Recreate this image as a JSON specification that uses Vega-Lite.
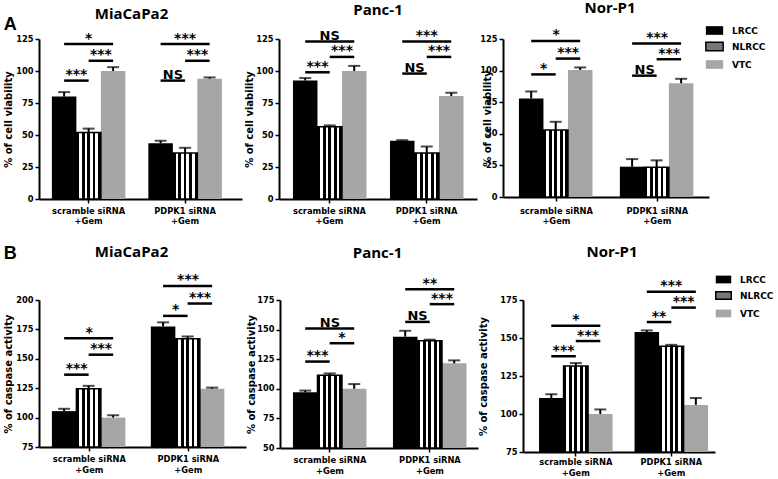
{
  "$schema": "https://vega.github.io/schema/vega-lite/v6.json",
  "padding": {"left": 3, "top": 1, "right": 2, "bottom": 2},
  "config": {
    "view": {"stroke": null},
    "axis": {"domainColor": "black", "domainWidth": 2, "tickColor": "black", "tickWidth": 1.5, "tickSize": 4, "labelFont": "DejaVu Sans", "labelFontWeight": "bold", "labelFontSize": 8.3, "labelColor": "black", "titleFont": "DejaVu Sans", "titleFontWeight": "bold", "titleFontSize": 10, "titleColor": "black", "grid": false, "labelOverlap": false},
    "title": {"font": "Open Sans", "fontWeight": "bold", "fontSize": 15, "color": "black", "frame": "group"},
    "legend": {"title": null, "symbolType": "M-1,-0.5H1V0.5H-1Z", "symbolSize": 300, "symbolStrokeWidth": 0, "labelFont": "DejaVu Sans", "labelFontWeight": "bold", "labelFontSize": 9, "labelColor": "black", "rowPadding": 1, "labelOffset": 8, "padding": 0}
  },
  "datasets": {
    "bars": [
      {"panel": "T1", "group": "scramble siRNA", "treatment": "LRCC", "value": 80, "hi": 83.5},
      {"panel": "T1", "group": "scramble siRNA", "treatment": "NLRCC", "value": 52, "hi": 55},
      {"panel": "T1", "group": "scramble siRNA", "treatment": "VTC", "value": 100, "hi": 103},
      {"panel": "T1", "group": "PDPK1 siRNA", "treatment": "LRCC", "value": 43.5, "hi": 45.5},
      {"panel": "T1", "group": "PDPK1 siRNA", "treatment": "NLRCC", "value": 36, "hi": 40},
      {"panel": "T1", "group": "PDPK1 siRNA", "treatment": "VTC", "value": 94, "hi": 95},
      {"panel": "T2", "group": "scramble siRNA", "treatment": "LRCC", "value": 92.5, "hi": 94.5},
      {"panel": "T2", "group": "scramble siRNA", "treatment": "NLRCC", "value": 56.5, "hi": 57.5},
      {"panel": "T2", "group": "scramble siRNA", "treatment": "VTC", "value": 100, "hi": 104},
      {"panel": "T2", "group": "PDPK1 siRNA", "treatment": "LRCC", "value": 45.5, "hi": 46},
      {"panel": "T2", "group": "PDPK1 siRNA", "treatment": "NLRCC", "value": 36, "hi": 41},
      {"panel": "T2", "group": "PDPK1 siRNA", "treatment": "VTC", "value": 80.5, "hi": 83},
      {"panel": "T3", "group": "scramble siRNA", "treatment": "LRCC", "value": 78, "hi": 83.5},
      {"panel": "T3", "group": "scramble siRNA", "treatment": "NLRCC", "value": 53, "hi": 59.5},
      {"panel": "T3", "group": "scramble siRNA", "treatment": "VTC", "value": 100.5, "hi": 102.5},
      {"panel": "T3", "group": "PDPK1 siRNA", "treatment": "LRCC", "value": 24, "hi": 30},
      {"panel": "T3", "group": "PDPK1 siRNA", "treatment": "NLRCC", "value": 23.5, "hi": 29},
      {"panel": "T3", "group": "PDPK1 siRNA", "treatment": "VTC", "value": 90, "hi": 93.5},
      {"panel": "B1", "group": "scramble siRNA", "treatment": "LRCC", "value": 105.5, "hi": 107.5},
      {"panel": "B1", "group": "scramble siRNA", "treatment": "NLRCC", "value": 124.5, "hi": 127},
      {"panel": "B1", "group": "scramble siRNA", "treatment": "VTC", "value": 100, "hi": 102},
      {"panel": "B1", "group": "PDPK1 siRNA", "treatment": "LRCC", "value": 177.5, "hi": 181},
      {"panel": "B1", "group": "PDPK1 siRNA", "treatment": "NLRCC", "value": 167, "hi": 169},
      {"panel": "B1", "group": "PDPK1 siRNA", "treatment": "VTC", "value": 124.5, "hi": 125.5},
      {"panel": "B2", "group": "scramble siRNA", "treatment": "LRCC", "value": 97, "hi": 98.5},
      {"panel": "B2", "group": "scramble siRNA", "treatment": "NLRCC", "value": 111.5, "hi": 113},
      {"panel": "B2", "group": "scramble siRNA", "treatment": "VTC", "value": 100, "hi": 104},
      {"panel": "B2", "group": "PDPK1 siRNA", "treatment": "LRCC", "value": 144, "hi": 149},
      {"panel": "B2", "group": "PDPK1 siRNA", "treatment": "NLRCC", "value": 140.5, "hi": 141.5},
      {"panel": "B2", "group": "PDPK1 siRNA", "treatment": "VTC", "value": 121.5, "hi": 124},
      {"panel": "B3", "group": "scramble siRNA", "treatment": "LRCC", "value": 110.5, "hi": 113},
      {"panel": "B3", "group": "scramble siRNA", "treatment": "NLRCC", "value": 131.5, "hi": 133.5},
      {"panel": "B3", "group": "scramble siRNA", "treatment": "VTC", "value": 100, "hi": 103},
      {"panel": "B3", "group": "PDPK1 siRNA", "treatment": "LRCC", "value": 154, "hi": 155},
      {"panel": "B3", "group": "PDPK1 siRNA", "treatment": "NLRCC", "value": 144.5, "hi": 145.5},
      {"panel": "B3", "group": "PDPK1 siRNA", "treatment": "VTC", "value": 106, "hi": 110.5}
    ],
    "sig": [
      {"panel": "T1", "group": "scramble siRNA", "from": "LRCC", "to": "VTC", "level": 121, "label": "*"},
      {"panel": "T1", "group": "scramble siRNA", "from": "NLRCC", "to": "VTC", "level": 108, "label": "***"},
      {"panel": "T1", "group": "scramble siRNA", "from": "LRCC", "to": "NLRCC", "level": 92.5, "label": "***"},
      {"panel": "T1", "group": "PDPK1 siRNA", "from": "LRCC", "to": "VTC", "level": 121, "label": "***"},
      {"panel": "T1", "group": "PDPK1 siRNA", "from": "NLRCC", "to": "VTC", "level": 108, "label": "***"},
      {"panel": "T1", "group": "PDPK1 siRNA", "from": "LRCC", "to": "NLRCC", "level": 92.5, "label": "NS"},
      {"panel": "T2", "group": "scramble siRNA", "from": "LRCC", "to": "VTC", "level": 123, "label": "NS"},
      {"panel": "T2", "group": "scramble siRNA", "from": "NLRCC", "to": "VTC", "level": 111, "label": "***"},
      {"panel": "T2", "group": "scramble siRNA", "from": "LRCC", "to": "NLRCC", "level": 99, "label": "***"},
      {"panel": "T2", "group": "PDPK1 siRNA", "from": "LRCC", "to": "VTC", "level": 123, "label": "***"},
      {"panel": "T2", "group": "PDPK1 siRNA", "from": "NLRCC", "to": "VTC", "level": 111, "label": "***"},
      {"panel": "T2", "group": "PDPK1 siRNA", "from": "LRCC", "to": "NLRCC", "level": 98, "label": "NS"},
      {"panel": "T3", "group": "scramble siRNA", "from": "LRCC", "to": "VTC", "level": 123.5, "label": "*"},
      {"panel": "T3", "group": "scramble siRNA", "from": "NLRCC", "to": "VTC", "level": 109.5, "label": "***"},
      {"panel": "T3", "group": "scramble siRNA", "from": "LRCC", "to": "NLRCC", "level": 97, "label": "*"},
      {"panel": "T3", "group": "PDPK1 siRNA", "from": "LRCC", "to": "VTC", "level": 121.5, "label": "***"},
      {"panel": "T3", "group": "PDPK1 siRNA", "from": "NLRCC", "to": "VTC", "level": 109, "label": "***"},
      {"panel": "T3", "group": "PDPK1 siRNA", "from": "LRCC", "to": "NLRCC", "level": 96, "label": "NS"},
      {"panel": "B1", "group": "scramble siRNA", "from": "LRCC", "to": "VTC", "level": 167.5, "label": "*"},
      {"panel": "B1", "group": "scramble siRNA", "from": "NLRCC", "to": "VTC", "level": 153.5, "label": "***"},
      {"panel": "B1", "group": "scramble siRNA", "from": "LRCC", "to": "NLRCC", "level": 136.5, "label": "***"},
      {"panel": "B1", "group": "PDPK1 siRNA", "from": "LRCC", "to": "VTC", "level": 212, "label": "***"},
      {"panel": "B1", "group": "PDPK1 siRNA", "from": "NLRCC", "to": "VTC", "level": 197, "label": "***"},
      {"panel": "B1", "group": "PDPK1 siRNA", "from": "LRCC", "to": "NLRCC", "level": 186.5, "label": "*"},
      {"panel": "B2", "group": "scramble siRNA", "from": "LRCC", "to": "VTC", "level": 151, "label": "NS"},
      {"panel": "B2", "group": "scramble siRNA", "from": "NLRCC", "to": "VTC", "level": 138.5, "label": "*"},
      {"panel": "B2", "group": "scramble siRNA", "from": "LRCC", "to": "NLRCC", "level": 123, "label": "***"},
      {"panel": "B2", "group": "PDPK1 siRNA", "from": "LRCC", "to": "VTC", "level": 184, "label": "**"},
      {"panel": "B2", "group": "PDPK1 siRNA", "from": "NLRCC", "to": "VTC", "level": 171.5, "label": "***"},
      {"panel": "B2", "group": "PDPK1 siRNA", "from": "LRCC", "to": "NLRCC", "level": 156.5, "label": "NS"},
      {"panel": "B3", "group": "scramble siRNA", "from": "LRCC", "to": "VTC", "level": 158, "label": "*"},
      {"panel": "B3", "group": "scramble siRNA", "from": "NLRCC", "to": "VTC", "level": 148, "label": "***"},
      {"panel": "B3", "group": "scramble siRNA", "from": "LRCC", "to": "NLRCC", "level": 138, "label": "***"},
      {"panel": "B3", "group": "PDPK1 siRNA", "from": "LRCC", "to": "VTC", "level": 180.5, "label": "***"},
      {"panel": "B3", "group": "PDPK1 siRNA", "from": "NLRCC", "to": "VTC", "level": 170, "label": "***"},
      {"panel": "B3", "group": "PDPK1 siRNA", "from": "LRCC", "to": "NLRCC", "level": 160.5, "label": "**"}
    ]
  },
  "vconcat": [
    {
      "title": {"text": "A", "anchor": "start", "font": "Liberation Sans", "fontSize": 18, "fontWeight": "bold", "baseline": "alphabetic", "frame": "bounds", "offset": -48, "dy": -1},
      "columns": 3, "align": "each", "spacing": 2,
      "concat": [
        {
          "width": 203, "height": 160,
          "title": {"text": "MiaCaPa2", "offset": 10, "dx": -9},
          "encoding": {
            "x": {"field": "group", "type": "nominal", "scale": {"domain": ["scramble siRNA", "PDPK1 siRNA"], "paddingInner": 0.238, "paddingOuter": 0.171, "align": 0.39}, "axis": {"title": null, "labelAngle": 0, "labelExpr": "[datum.label, '+Gem']", "labelPadding": 3, "labelLineHeight": 10}},
            "xOffset": {"field": "treatment", "type": "nominal", "scale": {"domain": ["LRCC", "NLRCC", "VTC"]}}
          },
          "layer": [
            {"data": {"name": "bars"}, "transform": [{"filter": "datum.panel==='T1'"}], "mark": {"type": "bar"},
             "encoding": {"y": {"field": "value", "type": "quantitative", "scale": {"domain": [0, 125]}, "title": "% of cell viability", "axis": {"values": [0, 25, 50, 75, 100, 125], "titlePadding": 2, "labelPadding": 2}},
               "color": {"field": "treatment", "type": "nominal", "scale": {"domain": ["LRCC", "NLRCC", "VTC"], "range": ["#000000", "#777777", "#a6a6a6"]},
                 "legend": {"orient": "none", "legendX": 666, "legendY": -18, "encode": {"symbols": {"update": {"fill": [{"test": "datum.value==='LRCC'", "value": "#000000"}, {"test": "datum.value==='NLRCC'", "value": {"gradient": "linear", "x1": 0, "y1": 0, "x2": 1, "y2": 0, "stops": [{"offset": 0, "color": "#000"}, {"offset": 0.2, "color": "#000"}, {"offset": 0.2, "color": "#fff"}, {"offset": 0.4, "color": "#fff"}, {"offset": 0.4, "color": "#000"}, {"offset": 0.6, "color": "#000"}, {"offset": 0.6, "color": "#fff"}, {"offset": 0.8, "color": "#fff"}, {"offset": 0.8, "color": "#000"}, {"offset": 1, "color": "#000"}]}}, {"value": "#a6a6a6"}], "stroke": [{"test": "datum.value==='NLRCC'", "value": "#000000"}, {"value": null}], "strokeWidth": {"value": 1.5}}}}}}}},
            {"data": {"name": "bars"}, "transform": [{"filter": "datum.panel==='T1' && datum.treatment==='NLRCC'"}], "mark": {"type": "bar", "stroke": "black", "strokeWidth": 1.5, "fill": {"gradient": "linear", "x1": 0, "y1": 0, "x2": 1, "y2": 0, "stops": [{"offset": 0, "color": "#000"}, {"offset": 0.111, "color": "#000"}, {"offset": 0.111, "color": "#fff"}, {"offset": 0.222, "color": "#fff"}, {"offset": 0.222, "color": "#000"}, {"offset": 0.333, "color": "#000"}, {"offset": 0.333, "color": "#fff"}, {"offset": 0.444, "color": "#fff"}, {"offset": 0.444, "color": "#000"}, {"offset": 0.556, "color": "#000"}, {"offset": 0.556, "color": "#fff"}, {"offset": 0.667, "color": "#fff"}, {"offset": 0.667, "color": "#000"}, {"offset": 0.778, "color": "#000"}, {"offset": 0.778, "color": "#fff"}, {"offset": 0.889, "color": "#fff"}, {"offset": 0.889, "color": "#000"}, {"offset": 1, "color": "#000"}]}},
             "encoding": {"y": {"field": "value", "type": "quantitative", "scale": {"domain": [0, 125]}, "title": "% of cell viability", "axis": {"values": [0, 25, 50, 75, 100, 125], "titlePadding": 2, "labelPadding": 2}}}},
            {"data": {"name": "bars"}, "transform": [{"filter": "datum.panel==='T1'"}], "mark": {"type": "rule", "strokeWidth": 2, "color": "black"},
             "encoding": {"y": {"field": "value", "type": "quantitative", "scale": {"domain": [0, 125]}, "title": "% of cell viability", "axis": {"values": [0, 25, 50, 75, 100, 125], "titlePadding": 2, "labelPadding": 2}}, "y2": {"field": "hi"}}},
            {"data": {"name": "bars"}, "transform": [{"filter": "datum.panel==='T1'"}], "mark": {"type": "tick", "size": 12, "thickness": 2, "color": "black"},
             "encoding": {"y": {"field": "hi", "type": "quantitative", "scale": {"domain": [0, 125]}, "title": "% of cell viability", "axis": {"values": [0, 25, 50, 75, 100, 125], "titlePadding": 2, "labelPadding": 2}}}},
            {"data": {"name": "sig"}, "transform": [{"filter": "datum.panel==='T1'"}, {"fold": ["from", "to"], "as": ["end", "treatment"]}], "mark": {"type": "line", "strokeWidth": 2.5, "color": "black"},
             "encoding": {"y": {"field": "level", "type": "quantitative", "scale": {"domain": [0, 125]}, "title": "% of cell viability", "axis": {"values": [0, 25, 50, 75, 100, 125], "titlePadding": 2, "labelPadding": 2}}, "detail": [{"field": "group"}, {"field": "from"}, {"field": "to"}]}},
            {"data": {"name": "sig"}, "transform": [{"filter": "datum.panel==='T1' && datum.from==='LRCC' && datum.to==='VTC'"}], "mark": {"type": "text", "font": "DejaVu Sans", "fontWeight": "bold", "baseline": "alphabetic", "dy": -1.5, "dx": 24.5},
             "encoding": {"xOffset": {"field": "from", "type": "nominal"}, "y": {"field": "level", "type": "quantitative", "scale": {"domain": [0, 125]}, "title": "% of cell viability", "axis": {"values": [0, 25, 50, 75, 100, 125], "titlePadding": 2, "labelPadding": 2}}, "text": {"field": "label"}, "size": {"condition": {"test": "datum.label==='NS'", "value": 13}, "value": 14}}},
            {"data": {"name": "sig"}, "transform": [{"filter": "datum.panel==='T1' && !(datum.from==='LRCC' && datum.to==='VTC')"}], "mark": {"type": "text", "font": "DejaVu Sans", "fontWeight": "bold", "baseline": "alphabetic", "dy": -1.5, "dx": 12.3},
             "encoding": {"xOffset": {"field": "from", "type": "nominal"}, "y": {"field": "level", "type": "quantitative", "scale": {"domain": [0, 125]}, "title": "% of cell viability", "axis": {"values": [0, 25, 50, 75, 100, 125], "titlePadding": 2, "labelPadding": 2}}, "text": {"field": "label"}, "size": {"condition": {"test": "datum.label==='NS'", "value": 13}, "value": 14}}}
          ]
        },
        {
          "width": 198, "height": 160,
          "title": {"text": "Panc-1", "offset": 11},
          "encoding": {
            "x": {"field": "group", "type": "nominal", "scale": {"domain": ["scramble siRNA", "PDPK1 siRNA"], "paddingInner": 0.247, "paddingOuter": 0.144, "align": 0.5}, "axis": {"title": null, "labelAngle": 0, "labelExpr": "[datum.label, '+Gem']", "labelPadding": 3, "labelLineHeight": 10}},
            "xOffset": {"field": "treatment", "type": "nominal", "scale": {"domain": ["LRCC", "NLRCC", "VTC"]}}
          },
          "layer": [
            {"data": {"name": "bars"}, "transform": [{"filter": "datum.panel==='T2'"}], "mark": {"type": "bar"},
             "encoding": {"y": {"field": "value", "type": "quantitative", "scale": {"domain": [0, 125]}, "title": "% of cell viability", "axis": {"values": [0, 25, 50, 75, 100, 125], "titlePadding": 1, "labelPadding": 2}},
               "color": {"field": "treatment", "type": "nominal", "scale": {"domain": ["LRCC", "NLRCC", "VTC"], "range": ["#000000", "#777777", "#a6a6a6"]}}}},
            {"data": {"name": "bars"}, "transform": [{"filter": "datum.panel==='T2' && datum.treatment==='NLRCC'"}], "mark": {"type": "bar", "stroke": "black", "strokeWidth": 1.5, "fill": {"gradient": "linear", "x1": 0, "y1": 0, "x2": 1, "y2": 0, "stops": [{"offset": 0, "color": "#000"}, {"offset": 0.111, "color": "#000"}, {"offset": 0.111, "color": "#fff"}, {"offset": 0.222, "color": "#fff"}, {"offset": 0.222, "color": "#000"}, {"offset": 0.333, "color": "#000"}, {"offset": 0.333, "color": "#fff"}, {"offset": 0.444, "color": "#fff"}, {"offset": 0.444, "color": "#000"}, {"offset": 0.556, "color": "#000"}, {"offset": 0.556, "color": "#fff"}, {"offset": 0.667, "color": "#fff"}, {"offset": 0.667, "color": "#000"}, {"offset": 0.778, "color": "#000"}, {"offset": 0.778, "color": "#fff"}, {"offset": 0.889, "color": "#fff"}, {"offset": 0.889, "color": "#000"}, {"offset": 1, "color": "#000"}]}},
             "encoding": {"y": {"field": "value", "type": "quantitative", "scale": {"domain": [0, 125]}, "title": "% of cell viability", "axis": {"values": [0, 25, 50, 75, 100, 125], "titlePadding": 1, "labelPadding": 2}}}},
            {"data": {"name": "bars"}, "transform": [{"filter": "datum.panel==='T2'"}], "mark": {"type": "rule", "strokeWidth": 2, "color": "black"},
             "encoding": {"y": {"field": "value", "type": "quantitative", "scale": {"domain": [0, 125]}, "title": "% of cell viability", "axis": {"values": [0, 25, 50, 75, 100, 125], "titlePadding": 1, "labelPadding": 2}}, "y2": {"field": "hi"}}},
            {"data": {"name": "bars"}, "transform": [{"filter": "datum.panel==='T2'"}], "mark": {"type": "tick", "size": 12, "thickness": 2, "color": "black"},
             "encoding": {"y": {"field": "hi", "type": "quantitative", "scale": {"domain": [0, 125]}, "title": "% of cell viability", "axis": {"values": [0, 25, 50, 75, 100, 125], "titlePadding": 1, "labelPadding": 2}}}},
            {"data": {"name": "sig"}, "transform": [{"filter": "datum.panel==='T2'"}, {"fold": ["from", "to"], "as": ["end", "treatment"]}], "mark": {"type": "line", "strokeWidth": 2.5, "color": "black"},
             "encoding": {"y": {"field": "level", "type": "quantitative", "scale": {"domain": [0, 125]}, "title": "% of cell viability", "axis": {"values": [0, 25, 50, 75, 100, 125], "titlePadding": 1, "labelPadding": 2}}, "detail": [{"field": "group"}, {"field": "from"}, {"field": "to"}]}},
            {"data": {"name": "sig"}, "transform": [{"filter": "datum.panel==='T2' && datum.from==='LRCC' && datum.to==='VTC'"}], "mark": {"type": "text", "font": "DejaVu Sans", "fontWeight": "bold", "baseline": "alphabetic", "dy": -1.5, "dx": 24.5},
             "encoding": {"xOffset": {"field": "from", "type": "nominal"}, "y": {"field": "level", "type": "quantitative", "scale": {"domain": [0, 125]}, "title": "% of cell viability", "axis": {"values": [0, 25, 50, 75, 100, 125], "titlePadding": 1, "labelPadding": 2}}, "text": {"field": "label"}, "size": {"condition": {"test": "datum.label==='NS'", "value": 13}, "value": 14}}},
            {"data": {"name": "sig"}, "transform": [{"filter": "datum.panel==='T2' && !(datum.from==='LRCC' && datum.to==='VTC')"}], "mark": {"type": "text", "font": "DejaVu Sans", "fontWeight": "bold", "baseline": "alphabetic", "dy": -1.5, "dx": 12.3},
             "encoding": {"xOffset": {"field": "from", "type": "nominal"}, "y": {"field": "level", "type": "quantitative", "scale": {"domain": [0, 125]}, "title": "% of cell viability", "axis": {"values": [0, 25, 50, 75, 100, 125], "titlePadding": 1, "labelPadding": 2}}, "text": {"field": "label"}, "size": {"condition": {"test": "datum.label==='NS'", "value": 13}, "value": 14}}}
          ]
        },
        {
          "width": 206, "height": 158,
          "title": {"text": "Nor-P1", "offset": 12, "dx": 4},
          "encoding": {
            "x": {"field": "group", "type": "nominal", "scale": {"domain": ["scramble siRNA", "PDPK1 siRNA"], "paddingInner": 0.257, "paddingOuter": 0.149, "align": 0.53}, "axis": {"title": null, "labelAngle": 0, "labelExpr": "[datum.label, '+Gem']", "labelPadding": 5, "labelLineHeight": 10}},
            "xOffset": {"field": "treatment", "type": "nominal", "scale": {"domain": ["LRCC", "NLRCC", "VTC"]}}
          },
          "layer": [
            {"data": {"name": "bars"}, "transform": [{"filter": "datum.panel==='T3'"}], "mark": {"type": "bar"},
             "encoding": {"y": {"field": "value", "type": "quantitative", "scale": {"domain": [0, 125]}, "title": "% of cell viability", "axis": {"values": [0, 25, 50, 75, 100, 125], "titlePadding": -13, "labelPadding": 2}},
               "color": {"field": "treatment", "type": "nominal", "scale": {"domain": ["LRCC", "NLRCC", "VTC"], "range": ["#000000", "#777777", "#a6a6a6"]}}}},
            {"data": {"name": "bars"}, "transform": [{"filter": "datum.panel==='T3' && datum.treatment==='NLRCC'"}], "mark": {"type": "bar", "stroke": "black", "strokeWidth": 1.5, "fill": {"gradient": "linear", "x1": 0, "y1": 0, "x2": 1, "y2": 0, "stops": [{"offset": 0, "color": "#000"}, {"offset": 0.111, "color": "#000"}, {"offset": 0.111, "color": "#fff"}, {"offset": 0.222, "color": "#fff"}, {"offset": 0.222, "color": "#000"}, {"offset": 0.333, "color": "#000"}, {"offset": 0.333, "color": "#fff"}, {"offset": 0.444, "color": "#fff"}, {"offset": 0.444, "color": "#000"}, {"offset": 0.556, "color": "#000"}, {"offset": 0.556, "color": "#fff"}, {"offset": 0.667, "color": "#fff"}, {"offset": 0.667, "color": "#000"}, {"offset": 0.778, "color": "#000"}, {"offset": 0.778, "color": "#fff"}, {"offset": 0.889, "color": "#fff"}, {"offset": 0.889, "color": "#000"}, {"offset": 1, "color": "#000"}]}},
             "encoding": {"y": {"field": "value", "type": "quantitative", "scale": {"domain": [0, 125]}, "title": "% of cell viability", "axis": {"values": [0, 25, 50, 75, 100, 125], "titlePadding": -13, "labelPadding": 2}}}},
            {"data": {"name": "bars"}, "transform": [{"filter": "datum.panel==='T3'"}], "mark": {"type": "rule", "strokeWidth": 2, "color": "black"},
             "encoding": {"y": {"field": "value", "type": "quantitative", "scale": {"domain": [0, 125]}, "title": "% of cell viability", "axis": {"values": [0, 25, 50, 75, 100, 125], "titlePadding": -13, "labelPadding": 2}}, "y2": {"field": "hi"}}},
            {"data": {"name": "bars"}, "transform": [{"filter": "datum.panel==='T3'"}], "mark": {"type": "tick", "size": 12, "thickness": 2, "color": "black"},
             "encoding": {"y": {"field": "hi", "type": "quantitative", "scale": {"domain": [0, 125]}, "title": "% of cell viability", "axis": {"values": [0, 25, 50, 75, 100, 125], "titlePadding": -13, "labelPadding": 2}}}},
            {"data": {"name": "sig"}, "transform": [{"filter": "datum.panel==='T3'"}, {"fold": ["from", "to"], "as": ["end", "treatment"]}], "mark": {"type": "line", "strokeWidth": 2.5, "color": "black"},
             "encoding": {"y": {"field": "level", "type": "quantitative", "scale": {"domain": [0, 125]}, "title": "% of cell viability", "axis": {"values": [0, 25, 50, 75, 100, 125], "titlePadding": -13, "labelPadding": 2}}, "detail": [{"field": "group"}, {"field": "from"}, {"field": "to"}]}},
            {"data": {"name": "sig"}, "transform": [{"filter": "datum.panel==='T3' && datum.from==='LRCC' && datum.to==='VTC'"}], "mark": {"type": "text", "font": "DejaVu Sans", "fontWeight": "bold", "baseline": "alphabetic", "dy": -1.5, "dx": 25},
             "encoding": {"xOffset": {"field": "from", "type": "nominal"}, "y": {"field": "level", "type": "quantitative", "scale": {"domain": [0, 125]}, "title": "% of cell viability", "axis": {"values": [0, 25, 50, 75, 100, 125], "titlePadding": -13, "labelPadding": 2}}, "text": {"field": "label"}, "size": {"condition": {"test": "datum.label==='NS'", "value": 13}, "value": 14}}},
            {"data": {"name": "sig"}, "transform": [{"filter": "datum.panel==='T3' && !(datum.from==='LRCC' && datum.to==='VTC')"}], "mark": {"type": "text", "font": "DejaVu Sans", "fontWeight": "bold", "baseline": "alphabetic", "dy": -1.5, "dx": 12.5},
             "encoding": {"xOffset": {"field": "from", "type": "nominal"}, "y": {"field": "level", "type": "quantitative", "scale": {"domain": [0, 125]}, "title": "% of cell viability", "axis": {"values": [0, 25, 50, 75, 100, 125], "titlePadding": -13, "labelPadding": 2}}, "text": {"field": "label"}, "size": {"condition": {"test": "datum.label==='NS'", "value": 13}, "value": 14}}}
          ]
        }
      ]
    },
    {
      "title": {"text": "B", "anchor": "start", "font": "Liberation Sans", "fontSize": 18, "fontWeight": "bold", "baseline": "alphabetic", "frame": "bounds", "offset": -34, "dy": -2},
      "columns": 3, "align": "each", "spacing": 0,
      "concat": [
        {
          "width": 207, "height": 147,
          "title": {"text": "MiaCaPa2", "offset": 13, "dx": -11},
          "encoding": {
            "x": {"field": "group", "type": "nominal", "scale": {"domain": ["scramble siRNA", "PDPK1 siRNA"], "paddingInner": 0.242, "paddingOuter": 0.167, "align": 0.39}, "axis": {"title": null, "labelAngle": 0, "labelExpr": "[datum.label, '+Gem']", "labelPadding": 3, "labelLineHeight": 11.5}},
            "xOffset": {"field": "treatment", "type": "nominal", "scale": {"domain": ["LRCC", "NLRCC", "VTC"]}}
          },
          "layer": [
            {"data": {"name": "bars"}, "transform": [{"filter": "datum.panel==='B1'"}], "mark": {"type": "bar"},
             "encoding": {"y": {"field": "value", "type": "quantitative", "scale": {"domain": [75, 200]}, "title": "% of caspase activity", "axis": {"values": [75, 100, 125, 150, 175, 200], "titlePadding": 2, "labelPadding": 2}}, "y2": {"datum": 75},
               "color": {"field": "treatment", "type": "nominal", "scale": {"domain": ["LRCC", "NLRCC", "VTC"], "range": ["#000000", "#777777", "#a6a6a6"]},
                 "legend": {"orient": "none", "legendX": 676, "legendY": -29, "symbolSize": 240, "rowPadding": 2, "encode": {"symbols": {"update": {"fill": [{"test": "datum.value==='LRCC'", "value": "#000000"}, {"test": "datum.value==='NLRCC'", "value": {"gradient": "linear", "x1": 0, "y1": 0, "x2": 1, "y2": 0, "stops": [{"offset": 0, "color": "#000"}, {"offset": 0.2, "color": "#000"}, {"offset": 0.2, "color": "#fff"}, {"offset": 0.4, "color": "#fff"}, {"offset": 0.4, "color": "#000"}, {"offset": 0.6, "color": "#000"}, {"offset": 0.6, "color": "#fff"}, {"offset": 0.8, "color": "#fff"}, {"offset": 0.8, "color": "#000"}, {"offset": 1, "color": "#000"}]}}, {"value": "#a6a6a6"}], "stroke": [{"test": "datum.value==='NLRCC'", "value": "#000000"}, {"value": null}], "strokeWidth": {"value": 1.5}}}}}}}},
            {"data": {"name": "bars"}, "transform": [{"filter": "datum.panel==='B1' && datum.treatment==='NLRCC'"}], "mark": {"type": "bar", "stroke": "black", "strokeWidth": 1.5, "fill": {"gradient": "linear", "x1": 0, "y1": 0, "x2": 1, "y2": 0, "stops": [{"offset": 0, "color": "#000"}, {"offset": 0.111, "color": "#000"}, {"offset": 0.111, "color": "#fff"}, {"offset": 0.222, "color": "#fff"}, {"offset": 0.222, "color": "#000"}, {"offset": 0.333, "color": "#000"}, {"offset": 0.333, "color": "#fff"}, {"offset": 0.444, "color": "#fff"}, {"offset": 0.444, "color": "#000"}, {"offset": 0.556, "color": "#000"}, {"offset": 0.556, "color": "#fff"}, {"offset": 0.667, "color": "#fff"}, {"offset": 0.667, "color": "#000"}, {"offset": 0.778, "color": "#000"}, {"offset": 0.778, "color": "#fff"}, {"offset": 0.889, "color": "#fff"}, {"offset": 0.889, "color": "#000"}, {"offset": 1, "color": "#000"}]}},
             "encoding": {"y": {"field": "value", "type": "quantitative", "scale": {"domain": [75, 200]}, "title": "% of caspase activity", "axis": {"values": [75, 100, 125, 150, 175, 200], "titlePadding": 2, "labelPadding": 2}}, "y2": {"datum": 75}}},
            {"data": {"name": "bars"}, "transform": [{"filter": "datum.panel==='B1'"}], "mark": {"type": "rule", "strokeWidth": 2, "color": "black"},
             "encoding": {"y": {"field": "value", "type": "quantitative", "scale": {"domain": [75, 200]}, "title": "% of caspase activity", "axis": {"values": [75, 100, 125, 150, 175, 200], "titlePadding": 2, "labelPadding": 2}}, "y2": {"field": "hi"}}},
            {"data": {"name": "bars"}, "transform": [{"filter": "datum.panel==='B1'"}], "mark": {"type": "tick", "size": 12, "thickness": 2, "color": "black"},
             "encoding": {"y": {"field": "hi", "type": "quantitative", "scale": {"domain": [75, 200]}, "title": "% of caspase activity", "axis": {"values": [75, 100, 125, 150, 175, 200], "titlePadding": 2, "labelPadding": 2}}}},
            {"data": {"name": "sig"}, "transform": [{"filter": "datum.panel==='B1'"}, {"fold": ["from", "to"], "as": ["end", "treatment"]}], "mark": {"type": "line", "strokeWidth": 2.5, "color": "black"},
             "encoding": {"y": {"field": "level", "type": "quantitative", "scale": {"domain": [75, 200]}, "title": "% of caspase activity", "axis": {"values": [75, 100, 125, 150, 175, 200], "titlePadding": 2, "labelPadding": 2}}, "detail": [{"field": "group"}, {"field": "from"}, {"field": "to"}]}},
            {"data": {"name": "sig"}, "transform": [{"filter": "datum.panel==='B1' && datum.from==='LRCC' && datum.to==='VTC'"}], "mark": {"type": "text", "font": "DejaVu Sans", "fontWeight": "bold", "baseline": "alphabetic", "dy": -1.5, "dx": 25},
             "encoding": {"xOffset": {"field": "from", "type": "nominal"}, "y": {"field": "level", "type": "quantitative", "scale": {"domain": [75, 200]}, "title": "% of caspase activity", "axis": {"values": [75, 100, 125, 150, 175, 200], "titlePadding": 2, "labelPadding": 2}}, "text": {"field": "label"}, "size": {"condition": {"test": "datum.label==='NS'", "value": 13}, "value": 14}}},
            {"data": {"name": "sig"}, "transform": [{"filter": "datum.panel==='B1' && !(datum.from==='LRCC' && datum.to==='VTC')"}], "mark": {"type": "text", "font": "DejaVu Sans", "fontWeight": "bold", "baseline": "alphabetic", "dy": -1.5, "dx": 12.5},
             "encoding": {"xOffset": {"field": "from", "type": "nominal"}, "y": {"field": "level", "type": "quantitative", "scale": {"domain": [75, 200]}, "title": "% of caspase activity", "axis": {"values": [75, 100, 125, 150, 175, 200], "titlePadding": 2, "labelPadding": 2}}, "text": {"field": "label"}, "size": {"condition": {"test": "datum.label==='NS'", "value": 13}, "value": 14}}}
          ]
        },
        {
          "width": 198, "height": 148,
          "title": {"text": "Panc-1", "offset": 15.5, "dx": -1.5},
          "encoding": {
            "x": {"field": "group", "type": "nominal", "scale": {"domain": ["scramble siRNA", "PDPK1 siRNA"], "paddingInner": 0.26, "paddingOuter": 0.12, "align": 0.54}, "axis": {"title": null, "labelAngle": 0, "labelExpr": "[datum.label, '+Gem']", "labelPadding": 3, "labelLineHeight": 11.5}},
            "xOffset": {"field": "treatment", "type": "nominal", "scale": {"domain": ["LRCC", "NLRCC", "VTC"]}}
          },
          "layer": [
            {"data": {"name": "bars"}, "transform": [{"filter": "datum.panel==='B2'"}], "mark": {"type": "bar"},
             "encoding": {"y": {"field": "value", "type": "quantitative", "scale": {"domain": [50, 175]}, "title": "% of caspase activity", "axis": {"values": [50, 75, 100, 125, 150, 175], "titlePadding": 0, "labelPadding": 2}}, "y2": {"datum": 50},
               "color": {"field": "treatment", "type": "nominal", "scale": {"domain": ["LRCC", "NLRCC", "VTC"], "range": ["#000000", "#777777", "#a6a6a6"]}}}},
            {"data": {"name": "bars"}, "transform": [{"filter": "datum.panel==='B2' && datum.treatment==='NLRCC'"}], "mark": {"type": "bar", "stroke": "black", "strokeWidth": 1.5, "fill": {"gradient": "linear", "x1": 0, "y1": 0, "x2": 1, "y2": 0, "stops": [{"offset": 0, "color": "#000"}, {"offset": 0.111, "color": "#000"}, {"offset": 0.111, "color": "#fff"}, {"offset": 0.222, "color": "#fff"}, {"offset": 0.222, "color": "#000"}, {"offset": 0.333, "color": "#000"}, {"offset": 0.333, "color": "#fff"}, {"offset": 0.444, "color": "#fff"}, {"offset": 0.444, "color": "#000"}, {"offset": 0.556, "color": "#000"}, {"offset": 0.556, "color": "#fff"}, {"offset": 0.667, "color": "#fff"}, {"offset": 0.667, "color": "#000"}, {"offset": 0.778, "color": "#000"}, {"offset": 0.778, "color": "#fff"}, {"offset": 0.889, "color": "#fff"}, {"offset": 0.889, "color": "#000"}, {"offset": 1, "color": "#000"}]}},
             "encoding": {"y": {"field": "value", "type": "quantitative", "scale": {"domain": [50, 175]}, "title": "% of caspase activity", "axis": {"values": [50, 75, 100, 125, 150, 175], "titlePadding": 0, "labelPadding": 2}}, "y2": {"datum": 50}}},
            {"data": {"name": "bars"}, "transform": [{"filter": "datum.panel==='B2'"}], "mark": {"type": "rule", "strokeWidth": 2, "color": "black"},
             "encoding": {"y": {"field": "value", "type": "quantitative", "scale": {"domain": [50, 175]}, "title": "% of caspase activity", "axis": {"values": [50, 75, 100, 125, 150, 175], "titlePadding": 0, "labelPadding": 2}}, "y2": {"field": "hi"}}},
            {"data": {"name": "bars"}, "transform": [{"filter": "datum.panel==='B2'"}], "mark": {"type": "tick", "size": 12, "thickness": 2, "color": "black"},
             "encoding": {"y": {"field": "hi", "type": "quantitative", "scale": {"domain": [50, 175]}, "title": "% of caspase activity", "axis": {"values": [50, 75, 100, 125, 150, 175], "titlePadding": 0, "labelPadding": 2}}}},
            {"data": {"name": "sig"}, "transform": [{"filter": "datum.panel==='B2'"}, {"fold": ["from", "to"], "as": ["end", "treatment"]}], "mark": {"type": "line", "strokeWidth": 2.5, "color": "black"},
             "encoding": {"y": {"field": "level", "type": "quantitative", "scale": {"domain": [50, 175]}, "title": "% of caspase activity", "axis": {"values": [50, 75, 100, 125, 150, 175], "titlePadding": 0, "labelPadding": 2}}, "detail": [{"field": "group"}, {"field": "from"}, {"field": "to"}]}},
            {"data": {"name": "sig"}, "transform": [{"filter": "datum.panel==='B2' && datum.from==='LRCC' && datum.to==='VTC'"}], "mark": {"type": "text", "font": "DejaVu Sans", "fontWeight": "bold", "baseline": "alphabetic", "dy": -1.5, "dx": 24.7},
             "encoding": {"xOffset": {"field": "from", "type": "nominal"}, "y": {"field": "level", "type": "quantitative", "scale": {"domain": [50, 175]}, "title": "% of caspase activity", "axis": {"values": [50, 75, 100, 125, 150, 175], "titlePadding": 0, "labelPadding": 2}}, "text": {"field": "label"}, "size": {"condition": {"test": "datum.label==='NS'", "value": 13}, "value": 14}}},
            {"data": {"name": "sig"}, "transform": [{"filter": "datum.panel==='B2' && !(datum.from==='LRCC' && datum.to==='VTC')"}], "mark": {"type": "text", "font": "DejaVu Sans", "fontWeight": "bold", "baseline": "alphabetic", "dy": -1.5, "dx": 12.3},
             "encoding": {"xOffset": {"field": "from", "type": "nominal"}, "y": {"field": "level", "type": "quantitative", "scale": {"domain": [50, 175]}, "title": "% of caspase activity", "axis": {"values": [50, 75, 100, 125, 150, 175], "titlePadding": 0, "labelPadding": 2}}, "text": {"field": "label"}, "size": {"condition": {"test": "datum.label==='NS'", "value": 13}, "value": 14}}}
          ]
        },
        {
          "width": 192, "height": 152,
          "title": {"text": "Nor-P1", "offset": 19, "dx": -7},
          "encoding": {
            "x": {"field": "group", "type": "nominal", "scale": {"domain": ["scramble siRNA", "PDPK1 siRNA"], "paddingInner": 0.23, "paddingOuter": 0.12, "align": 0.7}, "axis": {"title": null, "labelAngle": 0, "labelExpr": "[datum.label, '+Gem']", "labelPadding": 1, "labelLineHeight": 11.5}},
            "xOffset": {"field": "treatment", "type": "nominal", "scale": {"domain": ["LRCC", "NLRCC", "VTC"]}}
          },
          "layer": [
            {"data": {"name": "bars"}, "transform": [{"filter": "datum.panel==='B3'"}], "mark": {"type": "bar"},
             "encoding": {"y": {"field": "value", "type": "quantitative", "scale": {"domain": [75, 175]}, "title": "% of caspase activity", "axis": {"values": [75, 100, 125, 150, 175], "titlePadding": 11, "labelPadding": 2}}, "y2": {"datum": 75},
               "color": {"field": "treatment", "type": "nominal", "scale": {"domain": ["LRCC", "NLRCC", "VTC"], "range": ["#000000", "#777777", "#a6a6a6"]}}}},
            {"data": {"name": "bars"}, "transform": [{"filter": "datum.panel==='B3' && datum.treatment==='NLRCC'"}], "mark": {"type": "bar", "stroke": "black", "strokeWidth": 1.5, "fill": {"gradient": "linear", "x1": 0, "y1": 0, "x2": 1, "y2": 0, "stops": [{"offset": 0, "color": "#000"}, {"offset": 0.111, "color": "#000"}, {"offset": 0.111, "color": "#fff"}, {"offset": 0.222, "color": "#fff"}, {"offset": 0.222, "color": "#000"}, {"offset": 0.333, "color": "#000"}, {"offset": 0.333, "color": "#fff"}, {"offset": 0.444, "color": "#fff"}, {"offset": 0.444, "color": "#000"}, {"offset": 0.556, "color": "#000"}, {"offset": 0.556, "color": "#fff"}, {"offset": 0.667, "color": "#fff"}, {"offset": 0.667, "color": "#000"}, {"offset": 0.778, "color": "#000"}, {"offset": 0.778, "color": "#fff"}, {"offset": 0.889, "color": "#fff"}, {"offset": 0.889, "color": "#000"}, {"offset": 1, "color": "#000"}]}},
             "encoding": {"y": {"field": "value", "type": "quantitative", "scale": {"domain": [75, 175]}, "title": "% of caspase activity", "axis": {"values": [75, 100, 125, 150, 175], "titlePadding": 11, "labelPadding": 2}}, "y2": {"datum": 75}}},
            {"data": {"name": "bars"}, "transform": [{"filter": "datum.panel==='B3'"}], "mark": {"type": "rule", "strokeWidth": 2, "color": "black"},
             "encoding": {"y": {"field": "value", "type": "quantitative", "scale": {"domain": [75, 175]}, "title": "% of caspase activity", "axis": {"values": [75, 100, 125, 150, 175], "titlePadding": 11, "labelPadding": 2}}, "y2": {"field": "hi"}}},
            {"data": {"name": "bars"}, "transform": [{"filter": "datum.panel==='B3'"}], "mark": {"type": "tick", "size": 12, "thickness": 2, "color": "black"},
             "encoding": {"y": {"field": "hi", "type": "quantitative", "scale": {"domain": [75, 175]}, "title": "% of caspase activity", "axis": {"values": [75, 100, 125, 150, 175], "titlePadding": 11, "labelPadding": 2}}}},
            {"data": {"name": "sig"}, "transform": [{"filter": "datum.panel==='B3'"}, {"fold": ["from", "to"], "as": ["end", "treatment"]}], "mark": {"type": "line", "strokeWidth": 2.5, "color": "black"},
             "encoding": {"y": {"field": "level", "type": "quantitative", "scale": {"domain": [75, 175]}, "title": "% of caspase activity", "axis": {"values": [75, 100, 125, 150, 175], "titlePadding": 11, "labelPadding": 2}}, "detail": [{"field": "group"}, {"field": "from"}, {"field": "to"}]}},
            {"data": {"name": "sig"}, "transform": [{"filter": "datum.panel==='B3' && datum.from==='LRCC' && datum.to==='VTC'"}], "mark": {"type": "text", "font": "DejaVu Sans", "fontWeight": "bold", "baseline": "alphabetic", "dy": -1.5, "dx": 24.5},
             "encoding": {"xOffset": {"field": "from", "type": "nominal"}, "y": {"field": "level", "type": "quantitative", "scale": {"domain": [75, 175]}, "title": "% of caspase activity", "axis": {"values": [75, 100, 125, 150, 175], "titlePadding": 11, "labelPadding": 2}}, "text": {"field": "label"}, "size": {"condition": {"test": "datum.label==='NS'", "value": 13}, "value": 14}}},
            {"data": {"name": "sig"}, "transform": [{"filter": "datum.panel==='B3' && !(datum.from==='LRCC' && datum.to==='VTC')"}], "mark": {"type": "text", "font": "DejaVu Sans", "fontWeight": "bold", "baseline": "alphabetic", "dy": -1.5, "dx": 12.3},
             "encoding": {"xOffset": {"field": "from", "type": "nominal"}, "y": {"field": "level", "type": "quantitative", "scale": {"domain": [75, 175]}, "title": "% of caspase activity", "axis": {"values": [75, 100, 125, 150, 175], "titlePadding": 11, "labelPadding": 2}}, "text": {"field": "label"}, "size": {"condition": {"test": "datum.label==='NS'", "value": 13}, "value": 14}}}
          ]
        }
      ]
    }
  ],
  "spacing": 20,
  "resolve": {"scale": {"color": "independent"}, "legend": {"color": "independent"}}
}
